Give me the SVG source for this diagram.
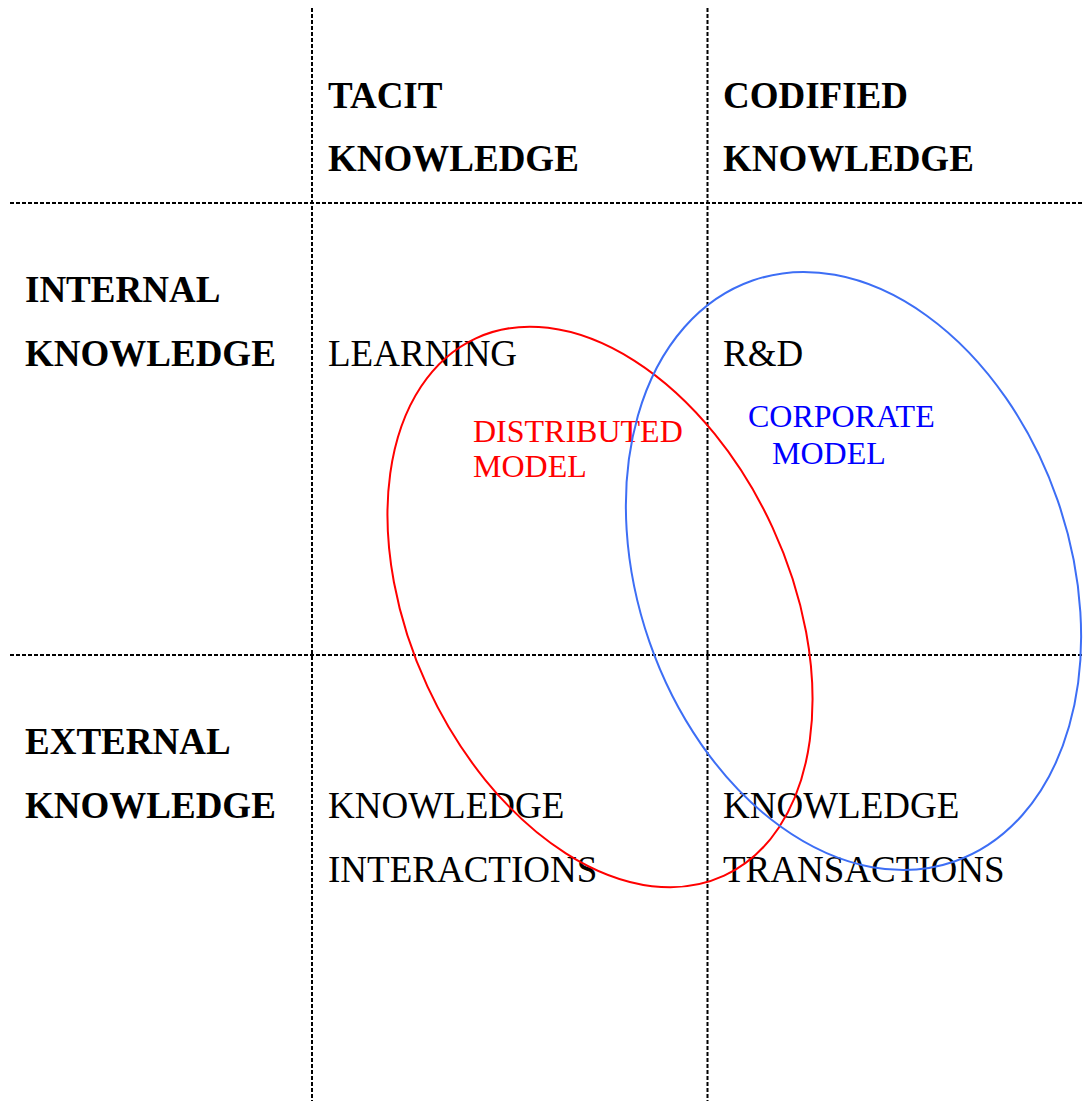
<svg xmlns="http://www.w3.org/2000/svg" width="1083" height="1101" viewBox="0 0 1083 1101">
<style>
.grid{stroke:#000;stroke-width:2;stroke-dasharray:4 2;fill:none}
.h{font-family:"Liberation Serif","Times New Roman",serif;font-size:37px;font-weight:bold;fill:#000}
.c{font-family:"Liberation Serif","Times New Roman",serif;font-size:37px;fill:#000}
.r{font-family:"Liberation Serif","Times New Roman",serif;font-size:32px;fill:#ff0000}
.b{font-family:"Liberation Serif","Times New Roman",serif;font-size:32px;fill:#0000ff}
</style>
<rect width="1083" height="1101" fill="#fff"/>
<g id="grid">
<line class="grid" x1="312" y1="8" x2="312" y2="1101"/>
<line class="grid" x1="707.5" y1="8" x2="707.5" y2="1101"/>
<line class="grid" x1="10" y1="203" x2="1083" y2="203"/>
<line class="grid" x1="10" y1="655" x2="1083" y2="655"/>
</g>
<g id="header-tacit"><text class="h" x="328" y="108">TACIT</text><text class="h" x="328" y="171">KNOWLEDGE</text></g>
<g id="header-codified"><text class="h" x="723" y="108">CODIFIED</text><text class="h" x="723" y="171">KNOWLEDGE</text></g>
<g id="row-internal"><text class="h" x="25" y="302">INTERNAL</text><text class="h" x="25" y="366">KNOWLEDGE</text></g>
<g id="row-external"><text class="h" x="25" y="754">EXTERNAL</text><text class="h" x="25" y="818">KNOWLEDGE</text></g>
<g id="cell-learning"><text class="c" x="328" y="366">LEARNING</text></g>
<g id="cell-rd"><text class="c" x="723" y="366">R&amp;D</text></g>
<g id="cell-interactions"><text class="c" x="328" y="818">KNOWLEDGE</text><text class="c" x="328" y="882">INTERACTIONS</text></g>
<g id="cell-transactions"><text class="c" x="723" y="818">KNOWLEDGE</text><text class="c" x="723" y="882">TRANSACTIONS</text></g>
<g id="distributed-model">
<ellipse cx="0" cy="0" rx="296" ry="190" transform="translate(600 607) rotate(65.2)" fill="none" stroke="#ff0000" stroke-width="2"/>
<text class="r" x="473" y="442">DISTRIBUTED</text><text class="r" x="473" y="477">MODEL</text>
</g>
<g id="corporate-model">
<ellipse cx="0" cy="0" rx="307.5" ry="216" transform="translate(853.5 571) rotate(70.85)" fill="none" stroke="#3d6ef5" stroke-width="2"/>
<text class="b" x="748" y="427">CORPORATE</text><text class="b" x="772" y="464">MODEL</text>
</g>
</svg>
